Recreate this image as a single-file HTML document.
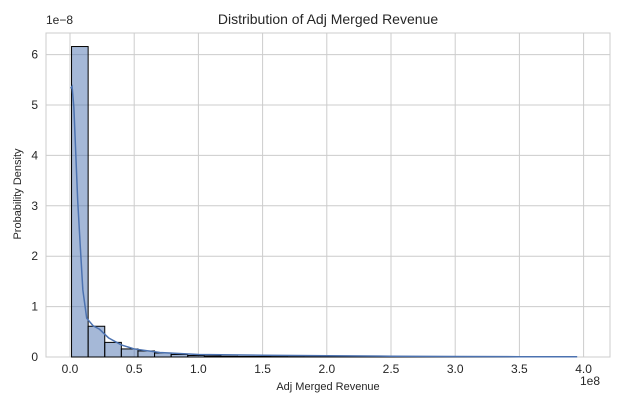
<!DOCTYPE html>
<html><head><meta charset="utf-8"><style>
body{margin:0;background:#fff;font-family:"Liberation Sans",sans-serif}
</style></head><body>
<svg id="c" width="617" height="408" xmlns="http://www.w3.org/2000/svg" font-family="Liberation Sans, sans-serif"></svg>
<script>
const binStart=0.012, binWidth=0.1293;
const counts=[6.16,0.61,0.29,0.16,0.12,0.08,0.05,0.03,0.02,0.015,0.012,0.01,0.009,0.008,0.007,0.006,0.005,0.005,0.004,0.004,0.003,0.003,0.003,0.002,0.002,0.002,0.002,0.002,0.002,0.002];
const kdeX=[0.005,0.016,0.03,0.06,0.08,0.1,0.13,0.18,0.23,0.3,0.4,0.5,0.7,1.0,1.5,2.0,2.5,3.0,3.5,3.95];
const kdeY=[5.33,5.37,4.96,3.1,2.2,1.33,0.77,0.62,0.55,0.38,0.24,0.16,0.09,0.05,0.035,0.025,0.015,0.01,0.006,0.004];
const xTicks=[0,0.5,1,1.5,2,2.5,3,3.5,4];
const xTickLabels=["0.0","0.5","1.0","1.5","2.0","2.5","3.0","3.5","4.0"];
const yTicks=[0,1,2,3,4,5,6];
const L=46,R=610,T=33,B=357;
const X=v=>70+v*128.4, Y=v=>357-v*50.4;
const s=document.getElementById('c');const ns="http://www.w3.org/2000/svg";
function el(t,a,p){const e=document.createElementNS(ns,t);for(const k in a)e.setAttribute(k,a[k]);(p||s).appendChild(e);return e;}
const bg=el('rect',{x:L,y:T,width:R-L,height:B-T,fill:'#fff',stroke:'#ccc'});


xTicks.forEach((v,i)=>{
 const g=el('line',{x1:X(v),x2:X(v),y1:T,y2:B,stroke:'#ccc'});
 
 
 const t=el('text',{x:X(v),y:B+16,'font-size':12,fill:'#262626','text-anchor':'middle'});t.textContent=xTickLabels[i];
 
 
});
yTicks.forEach(v=>{
 const g=el('line',{x1:L,x2:R,y1:Y(v),y2:Y(v),stroke:'#ccc'});
 
 
 const t=el('text',{x:L-8,y:Y(v)+4,'font-size':12,fill:'#262626','text-anchor':'end'});t.textContent=v;
 
 
});
counts.forEach((c,i)=>{
 const x0=X(binStart+i*binWidth),x1=X(binStart+(i+1)*binWidth);
 const r=el('rect',{x:x0,y:Y(c),width:x1-x0,height:B-Y(c),fill:'rgba(76,114,176,0.5)',stroke:'#000','stroke-width':1});
 
 
});
const p=el('polyline',{points:kdeX.map((v,i)=>X(v)+','+Y(kdeY[i])).join(' '),fill:'none',stroke:'#4c72b0','stroke-width':1.5});


</script>
<div style="position:absolute;left:0;top:0;width:617px;height:408px;pointer-events:none">
<div style="position:absolute;top:11px;left:46px;width:564px;text-align:center;font-size:14px;color:#262626">Distribution of Adj Merged Revenue</div>
<div style="position:absolute;top:381px;left:46px;width:564px;text-align:center;font-size:11px;color:#262626">Adj Merged Revenue</div>
<div style="position:absolute;left:-42px;top:188px;width:120px;text-align:center;font-size:11px;color:#262626;transform:rotate(-90deg)">Probability Density</div>
<div style="position:absolute;left:46px;top:13px;font-size:12px;color:#262626">1e−8</div>
<div style="position:absolute;left:580px;top:374px;font-size:12px;color:#262626">1e8</div>
</div>
</body></html>
